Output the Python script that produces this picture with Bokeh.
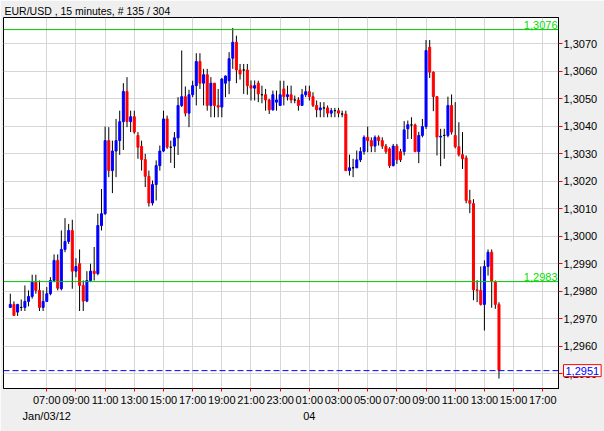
from bokeh.plotting import figure
from bokeh.models import (Range1d, FixedTicker, LinearAxis, Label, Span,
                          ColumnDataSource, CustomJSTickFormatter)
from bokeh.embed import file_html
from bokeh.resources import INLINE

# ---------------- data (15-minute bars, EUR/USD) ----------------
OPEN = [1.29741, 1.29752, 1.29724, 1.29741, 1.29741, 1.29763, 1.29781, 1.29833, 1.29803, 1.29741,
        1.29763, 1.29791, 1.29839, 1.29912, 1.29809, 1.29952, 1.29981, 1.30021, 1.29873, 1.29900,
        1.29821, 1.29764, 1.29839, 1.29873, 1.29864, 1.30039, 1.30082, 1.30348, 1.30239, 1.30310,
        1.30348, 1.30417, 1.30527, 1.30417, 1.30435, 1.30367, 1.30327, 1.30279, 1.30218, 1.30121,
        1.30188, 1.30257, 1.30310, 1.30427, 1.30324, 1.30328, 1.30358, 1.30476, 1.30508, 1.30448,
        1.30515, 1.30548, 1.30636, 1.30557, 1.30588, 1.30476, 1.30557, 1.30476, 1.30470, 1.30557,
        1.30566, 1.30648, 1.30706, 1.30605, 1.30605, 1.30605, 1.30548, 1.30539, 1.30557, 1.30515,
        1.30515, 1.30496, 1.30460, 1.30488, 1.30476, 1.30536, 1.30508, 1.30515, 1.30496, 1.30496,
        1.30476, 1.30515, 1.30526, 1.30508, 1.30476, 1.30460, 1.30467, 1.30467, 1.30448, 1.30457,
        1.30457, 1.30445, 1.30445, 1.30239, 1.30249, 1.30249, 1.30278, 1.30308, 1.30360, 1.30348,
        1.30328, 1.30360, 1.30348, 1.30328, 1.30318, 1.30257, 1.30328, 1.30308, 1.30308, 1.30391,
        1.30405, 1.30405, 1.30308, 1.30367, 1.30399, 1.30688, 1.30597, 1.30508, 1.30361, 1.30367,
        1.30367, 1.30476, 1.30367, 1.30326, 1.30297, 1.30285, 1.30130, 1.30119, 1.29805, 1.29803,
        1.29752, 1.29890, 1.29942, 1.29833, 1.29752]
HIGH = [1.29791, 1.29763, 1.29754, 1.29770, 1.29821, 1.29803, 1.29860, 1.29860, 1.29839, 1.29803,
        1.29815, 1.29851, 1.29934, 1.29934, 1.30021, 1.30066, 1.30045, 1.30060, 1.29920, 1.29952,
        1.29839, 1.29873, 1.29900, 1.29961, 1.30082, 1.30172, 1.30399, 1.30397, 1.30348, 1.30427,
        1.30457, 1.30557, 1.30579, 1.30457, 1.30457, 1.30379, 1.30348, 1.30300, 1.30239, 1.30203,
        1.30276, 1.30330, 1.30457, 1.30439, 1.30348, 1.30379, 1.30506, 1.30676, 1.30545, 1.30533,
        1.30566, 1.30666, 1.30666, 1.30609, 1.30609, 1.30579, 1.30557, 1.30536, 1.30576, 1.30585,
        1.30670, 1.30758, 1.30730, 1.30627, 1.30627, 1.30627, 1.30567, 1.30567, 1.30566, 1.30548,
        1.30536, 1.30500, 1.30530, 1.30530, 1.30566, 1.30566, 1.30548, 1.30548, 1.30512, 1.30506,
        1.30536, 1.30548, 1.30548, 1.30524, 1.30494, 1.30488, 1.30488, 1.30476, 1.30467, 1.30467,
        1.30467, 1.30457, 1.30457, 1.30297, 1.30282, 1.30312, 1.30324, 1.30367, 1.30399, 1.30360,
        1.30367, 1.30367, 1.30360, 1.30336, 1.30324, 1.30336, 1.30336, 1.30318, 1.30419, 1.30421,
        1.30433, 1.30410, 1.30380, 1.30427, 1.30714, 1.30714, 1.30600, 1.30510, 1.30391, 1.30391,
        1.30508, 1.30516, 1.30488, 1.30415, 1.30379, 1.30294, 1.30169, 1.30135, 1.29840, 1.29890,
        1.29912, 1.29952, 1.29952, 1.29839, 1.29760]
LOW = [1.29739, 1.29710, 1.29710, 1.29728, 1.29728, 1.29745, 1.29773, 1.29791, 1.29728, 1.29728,
       1.29761, 1.29785, 1.29833, 1.29803, 1.29803, 1.29942, 1.29972, 1.29809, 1.29851, 1.29728,
       1.29728, 1.29760, 1.29833, 1.29839, 1.29858, 1.30021, 1.30078, 1.30215, 1.30157, 1.30215,
       1.30296, 1.30314, 1.30397, 1.30379, 1.30373, 1.30282, 1.30239, 1.30179, 1.30108, 1.30112,
       1.30130, 1.30239, 1.30306, 1.30318, 1.30267, 1.30248, 1.30296, 1.30470, 1.30436, 1.30397,
       1.30506, 1.30476, 1.30536, 1.30476, 1.30457, 1.30433, 1.30433, 1.30433, 1.30433, 1.30506,
       1.30517, 1.30609, 1.30557, 1.30570, 1.30518, 1.30515, 1.30494, 1.30494, 1.30488, 1.30484,
       1.30457, 1.30445, 1.30457, 1.30457, 1.30476, 1.30476, 1.30494, 1.30484, 1.30484, 1.30457,
       1.30476, 1.30506, 1.30494, 1.30470, 1.30433, 1.30433, 1.30433, 1.30433, 1.30433, 1.30433,
       1.30433, 1.30433, 1.30237, 1.30221, 1.30215, 1.30249, 1.30270, 1.30297, 1.30306, 1.30306,
       1.30306, 1.30330, 1.30318, 1.30300, 1.30249, 1.30254, 1.30263, 1.30270, 1.30294, 1.30354,
       1.30354, 1.30306, 1.30266, 1.30360, 1.30390, 1.30576, 1.30455, 1.30294, 1.30255, 1.30282,
       1.30360, 1.30370, 1.30320, 1.30290, 1.30245, 1.30120, 1.30084, 1.29767, 1.29760, 1.29748,
       1.29657, 1.29857, 1.29740, 1.29736, 1.29482]
CLOSE = [1.29752, 1.29712, 1.29752, 1.29741, 1.29763, 1.29781, 1.29833, 1.29803, 1.29741, 1.29763,
         1.29791, 1.29839, 1.29912, 1.29811, 1.29952, 1.29981, 1.30021, 1.29873, 1.29890, 1.29821,
         1.29764, 1.29839, 1.29873, 1.29864, 1.30039, 1.30082, 1.30348, 1.30239, 1.30310, 1.30348,
         1.30417, 1.30527, 1.30417, 1.30435, 1.30379, 1.30324, 1.30279, 1.30218, 1.30121, 1.30188,
         1.30257, 1.30310, 1.30427, 1.30324, 1.30324, 1.30358, 1.30476, 1.30508, 1.30448, 1.30515,
         1.30548, 1.30636, 1.30557, 1.30588, 1.30476, 1.30557, 1.30476, 1.30470, 1.30572, 1.30583,
         1.30646, 1.30706, 1.30605, 1.30590, 1.30605, 1.30548, 1.30539, 1.30548, 1.30518, 1.30515,
         1.30496, 1.30460, 1.30515, 1.30496, 1.30515, 1.30508, 1.30515, 1.30496, 1.30496, 1.30476,
         1.30515, 1.30526, 1.30508, 1.30476, 1.30460, 1.30467, 1.30467, 1.30448, 1.30457, 1.30457,
         1.30448, 1.30445, 1.30239, 1.30249, 1.30249, 1.30278, 1.30308, 1.30360, 1.30348, 1.30328,
         1.30360, 1.30348, 1.30328, 1.30308, 1.30257, 1.30328, 1.30278, 1.30278, 1.30387, 1.30406,
         1.30405, 1.30308, 1.30367, 1.30399, 1.30676, 1.30597, 1.30508, 1.30361, 1.30364, 1.30367,
         1.30476, 1.30379, 1.30326, 1.30297, 1.30282, 1.30130, 1.30120, 1.29805, 1.29803, 1.29752,
         1.29890, 1.29942, 1.29837, 1.29752, 1.29512]

TITLE = "EUR/USD , 15 minutes, # 135 / 304"
X_TICKS = [10, 18, 26, 34, 42, 50, 58, 66, 74, 82, 90, 98, 106, 114, 122, 130, 138, 146]
X_LABELS = ["07:00", "09:00", "11:00", "13:00", "15:00", "17:00", "19:00", "21:00", "23:00",
            "01:00", "03:00", "05:00", "07:00", "09:00", "11:00", "13:00", "15:00", "17:00"]
DATE_TICKS = [10, 82]
DATE_LABELS = ["Jan/03/12", "04"]
Y_TICKS = [1.2950, 1.2960, 1.2970, 1.2980, 1.2990, 1.3000, 1.3010,
           1.3020, 1.3030, 1.3040, 1.3050, 1.3060, 1.3070]
Y_LABELS = ["1,2950", "1,2960", "1,2970", "1,2980", "1,2990", "1,3000", "1,3010",
            "1,3020", "1,3030", "1,3040", "1,3050", "1,3060", "1,3070"]
HIGH_LEVEL, HIGH_LEVEL_LABEL = 1.30752, "1,3076"
MID_LEVEL, MID_LEVEL_LABEL = 1.29835, "1,2983"
BID_LEVEL, BID_LEVEL_LABEL = 1.29511, "1,2951"

# ---------------- figure ----------------
X0, X1 = -1.865, 150.32
Y0, Y1 = 1.29446, 1.30796
FONT = "Liberation Sans"
FRAME_W, FRAME_H = 555, 371
LEFT, TOP, RIGHT, BOTTOM = 3, 17, 46, 43

n = len(OPEN)
xs = list(range(n))
colors = []
for o, c in zip(OPEN, CLOSE):
    colors.append("#0000ff" if c > o else ("#ff0000" if c < o else "#000000"))
src = ColumnDataSource(dict(x=xs, open=OPEN, high=HIGH, low=LOW, close=CLOSE,
                            top=[max(o, c) for o, c in zip(OPEN, CLOSE)],
                            bottom=[min(o, c) for o, c in zip(OPEN, CLOSE)],
                            color=colors))

p = figure(frame_width=FRAME_W, frame_height=FRAME_H,
           x_range=Range1d(X0, X1), y_range=Range1d(Y0, Y1),
           output_backend="svg", toolbar_location=None, y_axis_location="right",
           min_border_left=LEFT, min_border_top=TOP, min_border_right=RIGHT,
           min_border_bottom=BOTTOM,
           background_fill_color="white", border_fill_color="#efefef",
           outline_line_color="black", outline_line_width=1,
           styles={"position": "absolute", "left": "0px", "top": "0px"})

p.title.text = TITLE
p.title.align = "left"
p.title.text_font = FONT
p.title.text_font_size = "10.5px"
p.title.text_font_style = "normal"
p.title.text_color = "black"
p.title.offset = 1
p.title.standoff = 2


def fmt(tick_values, tick_labels):
    return CustomJSTickFormatter(args=dict(tv=tick_values, tl=tick_labels), code="""
        let i = 0, b = 1e9;
        for (let k = 0; k < tv.length; k++) {
            const d = Math.abs(tv[k] - tick);
            if (d < b) { b = d; i = k; }
        }
        return tl[i];
    """)


def style_axis(ax, tick_len):
    ax.axis_line_color = "black"
    ax.major_tick_line_color = "red"
    ax.major_tick_out = tick_len
    ax.major_tick_in = 0
    ax.minor_tick_out = 0
    ax.minor_tick_in = 0
    ax.minor_tick_line_color = None
    ax.major_label_text_font = FONT
    ax.major_label_text_font_size = "11px"
    ax.major_label_text_color = "black"


xax = p.xaxis[0]
xax.ticker = FixedTicker(ticks=X_TICKS)
xax.formatter = fmt(X_TICKS, X_LABELS)
style_axis(xax, 3)
xax.major_label_standoff = 2

yax = p.yaxis[0]
yax.ticker = FixedTicker(ticks=Y_TICKS)
yax.formatter = fmt(Y_TICKS, Y_LABELS)
style_axis(yax, 4)
yax.major_label_standoff = 1

dax = LinearAxis(ticker=FixedTicker(ticks=DATE_TICKS), formatter=fmt(DATE_TICKS, DATE_LABELS))
style_axis(dax, 0)
dax.axis_line_color = None
dax.major_tick_line_color = None
dax.major_label_standoff = 1
p.add_layout(dax, "below")

p.xgrid.ticker = FixedTicker(ticks=X_TICKS)
p.ygrid.ticker = FixedTicker(ticks=Y_TICKS)
for g in (p.xgrid[0], p.ygrid[0]):
    g.grid_line_color = "#d6d6d6"
    g.grid_line_width = 1

# reference lines
p.add_layout(Span(location=HIGH_LEVEL, dimension="width", line_color="#00c800", line_width=1))
p.add_layout(Span(location=MID_LEVEL, dimension="width", line_color="#00c800", line_width=1))
p.add_layout(Span(location=BID_LEVEL, dimension="width", line_color="#0000ff",
                  line_width=1, line_dash="6 3"))

# candles
p.segment(x0="x", y0="low", x1="x", y1="high", source=src, line_color="black", line_width=1)
p.vbar(x="x", width=0.55, top="top", bottom="bottom", source=src,
       fill_color="color", line_color="color", line_width=1)

# level labels
for lvl, txt in ((HIGH_LEVEL, HIGH_LEVEL_LABEL), (MID_LEVEL, MID_LEVEL_LABEL)):
    p.add_layout(Label(x=X1, y=lvl, x_offset=-1, y_offset=1, text=txt,
                       text_align="right", text_baseline="bottom",
                       text_color="#00e000", text_font=FONT, text_font_size="11px"))

# current-price box on the price scale (placed in the right side panel so it is not clipped)
bid_sy = TOP + (Y1 - BID_LEVEL) / (Y1 - Y0) * FRAME_H
p.add_layout(Label(x=LEFT + FRAME_W + 5, y=bid_sy, x_units="canvas", y_units="canvas",
                   text=BID_LEVEL_LABEL, text_align="left", text_baseline="middle",
                   text_color="#0000ff", text_font=FONT, text_font_size="11px",
                   border_line_color="#ff0000", border_line_width=1,
                   background_fill_color="white", padding=2), "right")

open("out.html", "w").write(file_html(p, INLINE))
